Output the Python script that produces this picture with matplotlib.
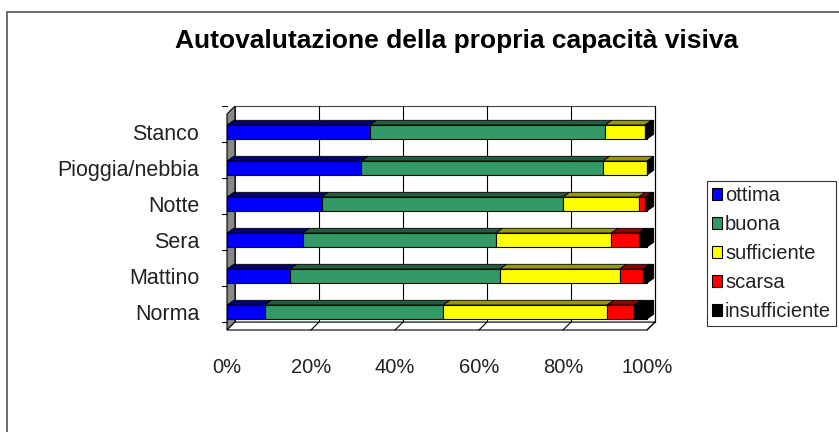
import matplotlib.pyplot as plt
from matplotlib.patches import Polygon, Rectangle
import numpy as np

plt.rcParams['font.family'] = ['Liberation Sans', 'DejaVu Sans']
plt.rcParams['text.color'] = '#222222'

# data (percent), bottom to top
categories = ['Norma', 'Mattino', 'Sera', 'Notte', 'Pioggia/nebbia', 'Stanco']
ottima = [9, 15, 18, 22.5, 32, 34]
buona = [42.5, 50, 46, 57.5, 57.5, 56]
sufficiente = [39, 28.5, 27.5, 18, 10.5, 9.5]
scarsa = [6.5, 5.5, 6.5, 1.5, 0, 0]
insufficiente = [3, 1, 2, 0.5, 0, 0.5]

series = [ottima, buona, sufficiente, scarsa, insufficiente]
labels = ['ottima', 'buona', 'sufficiente', 'scarsa', 'insufficiente']
colors = ['#0000ff', '#339966', '#ffff00', '#ff0000', '#000000']
dark = ['#000080', '#1f5e3e', '#999900', '#990000', '#000000']

fig = plt.figure(figsize=(8.39, 4.32), dpi=100)
ax = fig.add_axes([227 / 839, 1 - 330 / 432, 420 / 839, 216 / 432])
ax.set_xlim(0, 100)
ax.set_ylim(-0.5, 5.5)

# 3d offsets (data units)
wdx, wdy = 1.9, 0.22
bdx, bdy = 1.6, 0.13
h = 0.39

# walls
ax.add_patch(Polygon([(0, -0.5), (wdx, -0.5 + wdy), (wdx, 5.5 + wdy), (0, 5.5)],
                     closed=True, facecolor='#888888', edgecolor='black', lw=0.8, clip_on=False, zorder=1))
ax.add_patch(Rectangle((wdx, -0.5 + wdy), 100, 6, facecolor='white', edgecolor='#444444',
                       lw=0.8, clip_on=False, zorder=0.5))
ax.add_patch(Polygon([(0, -0.5), (100, -0.5), (100 + wdx, -0.5 + wdy), (wdx, -0.5 + wdy)],
                     closed=True, facecolor='white', edgecolor='black', lw=0.8, clip_on=False, zorder=1))
for x in range(20, 101, 20):
    ax.plot([x + wdx, x + wdx], [-0.5 + wdy, 5.5 + wdy], color='black', lw=0.8, clip_on=False, zorder=0.8)
    ax.plot([x, x + wdx], [-0.5, -0.5 + wdy], color='black', lw=0.8, clip_on=False, zorder=1.2)
# y ticks on the side wall
for k in range(7):
    y = k - 0.5 + wdy
    ax.plot([-1.2, 0], [y, y], color='black', lw=0.8, clip_on=False)

# bars
y_pos = np.arange(len(categories))
left = np.zeros(len(categories))
for s, c, d, lab in zip(series, colors, dark, labels):
    vals = np.array(s)
    ax.barh(y_pos, vals, left=left, height=h, color=c, edgecolor='black', lw=0.8,
            label=lab, zorder=3, clip_on=False)
    for yi, l0, v in zip(y_pos, left, vals):
        if v <= 0:
            continue
        top = yi + h / 2
        ax.add_patch(Polygon([(l0, top), (l0 + bdx, top + bdy), (l0 + v + bdx, top + bdy), (l0 + v, top)],
                             closed=True, facecolor=d, edgecolor='black', lw=0.6, zorder=2.5, clip_on=False))
    left = left + vals
# right side face of each bar
for yi, tot in zip(y_pos, left):
    ax.add_patch(Polygon([(tot, yi - h / 2), (tot + bdx, yi - h / 2 + bdy), (tot + bdx, yi + h / 2 + bdy),
                          (tot, yi + h / 2)], closed=True, facecolor='black', edgecolor='black',
                         lw=0.6, zorder=2.5, clip_on=False))

for sp in ax.spines.values():
    sp.set_visible(False)
ax.set_xticks(range(0, 101, 20))
ax.set_xticklabels([f'{x}%' for x in range(0, 101, 20)], fontsize=14.5, color='#222222')
ax.set_yticks(y_pos)
ax.set_yticklabels(categories, fontsize=15.5, color='#222222')
ax.tick_params(axis='x', length=0, pad=20)
ax.tick_params(axis='y', length=0, pad=20)

fig.text(457 / 839, 1 - 41 / 432, 'Autovalutazione della propria capacità visiva',
         ha='center', va='center', fontsize=19, fontweight='bold', color='black')

leg = fig.legend(loc='upper left', bbox_to_anchor=(707 / 839, 1 - 181 / 432), fontsize=14.5,
                 frameon=True, fancybox=False, edgecolor='black', handlelength=0.5, handleheight=0.5,
                 handletextpad=0.15, labelspacing=0.5, borderpad=0.25, borderaxespad=0)
leg.get_frame().set_linewidth(0.8)
for p in leg.get_patches():
    p.set_edgecolor('black')

fig.patches.append(Rectangle((7 / 839, -0.1), 1.2, 1 - 12 / 432 + 0.1, transform=fig.transFigure,
                             facecolor='none', edgecolor='#555555', lw=1.2))

fig.savefig('out.png', dpi=100)
